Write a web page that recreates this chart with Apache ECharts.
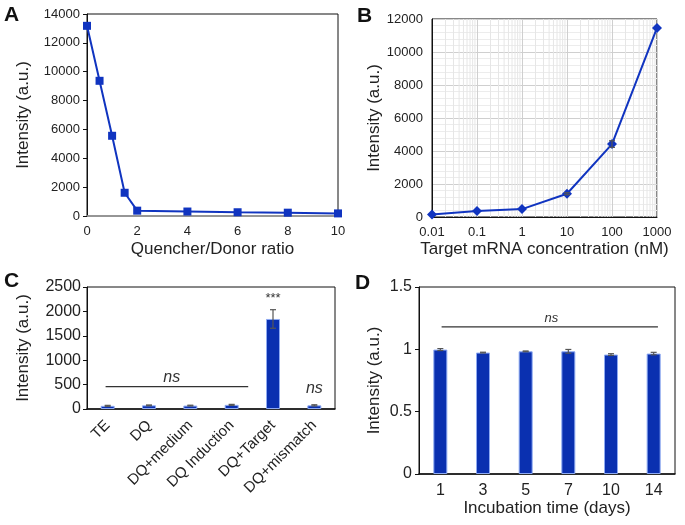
<!DOCTYPE html>
<html>
<head>
<meta charset="utf-8">
<script src="https://cdn.jsdelivr.net/npm/echarts@6/dist/echarts.min.js"></script>
<style>html,body{margin:0;padding:0;background:#fff}#c{width:685px;height:525px}</style>
</head>
<body>
<div id="c"></div>
<script>
// ---------- Data ----------
// Panel A
const aRatio = [0, 0.5, 1, 1.5, 2, 4, 6, 8, 10];
const aIntensity = [13180, 9370, 5560, 1610, 370, 310, 260, 230, 180];
// Panel B
const bConc = [0.01, 0.1, 1, 10, 100, 1000];
const bIntensity = [150, 360, 480, 1410, 4420, 11460];
const bError = [0, 0, 0, 60, 200, 0];
const bTickLabels = ['0.01', '0.1', '1', '10', '100', '1000'];
// Panel C
const cCategories = ['TE', 'DQ', 'DQ+medium', 'DQ Induction', 'DQ+Target', 'DQ+mismatch'];
const cIntensity = [65, 75, 70, 85, 1845, 75];
const cError = [10, 8, 8, 10, 190, 12];
// annotation line (x from, y, x to) on category index scale; texts (x, y)
const cNsLine = [[-0.05, 460, 3.4]];
const cTexts = [[1.55, 480], [4, 2130], [5, 260]];
const cTextLabels = ['ns', '***', 'ns'];
// Panel D
const dCategories = ['1', '3', '5', '7', '10', '14'];
const dIntensity = [0.998, 0.974, 0.984, 0.984, 0.958, 0.966];
const dError = [0.008, 0.003, 0.003, 0.015, 0.007, 0.01];
const dNsLine = [[0.03, 1.18, 5.1]];
const dTexts = [[2.6, 1.2]];
const dTextLabels = ['ns'];

// ---------- Styles ----------
const FONT = 'Liberation Sans, Arial, sans-serif';
const BLUE = '#1034c0';
const BAR = '#0a30b0';
const ERR = '#555';

// minor gridline positions for log axis (2..9 per decade)
const bMinorGrid = [];
for (let d = -2; d < 3; d++) {
  for (let k = 2; k <= 9; k++) bMinorGrid.push([k * Math.pow(10, d), 0]);
}

function errRender(params, api) {
  const x = api.value(0), v = api.value(1), e = api.value(2);
  if (!e) return null;
  const t = api.coord([x, v + e]);
  const b = api.coord([x, v - e]);
  const w = 3;
  const st = { stroke: ERR, lineWidth: 1.2 };
  return {
    type: 'group',
    children: [
      { type: 'line', shape: { x1: t[0], y1: t[1], x2: b[0], y2: b[1] }, style: st },
      { type: 'line', shape: { x1: t[0] - w, y1: t[1], x2: t[0] + w, y2: t[1] }, style: st },
      { type: 'line', shape: { x1: b[0] - w, y1: b[1], x2: b[0] + w, y2: b[1] }, style: st }
    ]
  };
}
function hLineRender(params, api) {
  const p0 = api.coord([api.value(0), api.value(1)]);
  const p1 = api.coord([api.value(2), api.value(1)]);
  return { type: 'line', shape: { x1: p0[0], y1: p0[1], x2: p1[0], y2: p1[1] }, style: { stroke: '#333', lineWidth: 1.2 } };
}
function textRender(labels, sizeFn) {
  return function (params, api) {
    const p = api.coord([api.value(0), api.value(1)]);
    const lbl = labels[params.dataIndex];
    const italic = lbl === 'ns';
    return {
      type: 'text', x: p[0], y: p[1],
      style: { text: lbl, fill: '#333', align: 'center', verticalAlign: 'bottom',
        font: (italic ? 'italic ' : '') + sizeFn(lbl) + 'px ' + FONT }
    };
  };
}

const plain = (v) => String(v);
const tickLbl = (size) => ({ fontSize: size, color: '#222', fontFamily: FONT, showMinLabel: true, showMaxLabel: true });
const nameTs = { fontSize: 17, color: '#222', fontFamily: FONT };

const grids = [
  { left: 87, top: 14, width: 251, height: 202 },
  { left: 432, top: 19, width: 225, height: 198 },
  { left: 87, top: 287, width: 248, height: 122 },
  { left: 419, top: 287, width: 256, height: 187 }
].map(g => Object.assign({ show: true, borderColor: '#111', borderWidth: 1, backgroundColor: 'transparent', outerBoundsMode: 'none', containLabel: false }, g));

const option = {
  animation: false,
  backgroundColor: '#fff',
  textStyle: { fontFamily: FONT },
  grid: grids,
  xAxis: [
    { gridIndex: 0, type: 'value', min: 0, max: 10, interval: 2,
      axisLine: { show: true, onZero: false, lineStyle: { color: '#9a9a9a', width: 1.5 } }, axisTick: { show: false },
      axisLabel: Object.assign(tickLbl(13), { margin: 9, formatter: plain }), splitLine: { show: false },
      name: 'Quencher/Donor ratio', nameLocation: 'middle', nameGap: 25, nameTextStyle: nameTs },
    { gridIndex: 1, type: 'log', logBase: 10, min: 0.01, max: 1000,
      axisLine: { show: true, onZero: false, lineStyle: { color: '#111' } }, axisTick: { show: false },
      axisLabel: Object.assign(tickLbl(13), { margin: 9, formatter: (v) => bTickLabels[Math.round(Math.log10(v)) + 2] }),
      splitLine: { show: true, lineStyle: { color: '#cfcfcf', width: 1 } },
      name: 'Target mRNA concentration (nM)', nameLocation: 'middle', nameGap: 24, nameTextStyle: nameTs },
    { gridIndex: 2, type: 'category', data: cCategories,
      axisLine: { show: true, onZero: false, lineStyle: { color: '#111', width: 1.5 } }, axisTick: { show: false },
      axisLabel: Object.assign(tickLbl(15), { rotate: 45, interval: 0, margin: 14 }) },
    { gridIndex: 3, type: 'category', data: dCategories,
      axisLine: { show: true, onZero: false, lineStyle: { color: '#111', width: 1.5 } }, axisTick: { show: false },
      axisLabel: Object.assign(tickLbl(16), { margin: 9 }),
      name: 'Incubation time (days)', nameLocation: 'middle', nameGap: 24, nameTextStyle: nameTs },
    // hidden value axes for annotations
    { gridIndex: 2, type: 'value', min: -0.5, max: 5.5, show: false, axisLine: { onZero: false }, splitLine: { show: false } },
    { gridIndex: 3, type: 'value', min: -0.5, max: 5.5, show: false, axisLine: { onZero: false }, splitLine: { show: false } }
  ],
  yAxis: [
    { gridIndex: 0, type: 'value', min: 0, max: 14000, interval: 2000,
      axisLine: { show: true, onZero: false, lineStyle: { color: '#111' } },
      axisTick: { show: true, inside: false, length: 4, lineStyle: { color: '#111' } },
      axisLabel: Object.assign(tickLbl(13), { margin: 7, formatter: plain }), splitLine: { show: false },
      name: 'Intensity (a.u.)', nameLocation: 'middle', nameRotate: 90, nameGap: 55, nameTextStyle: nameTs },
    { gridIndex: 1, type: 'value', min: 0, max: 12000, interval: 2000,
      axisLine: { show: true, onZero: false, lineStyle: { color: '#111' } }, axisTick: { show: false },
      axisLabel: Object.assign(tickLbl(13), { margin: 9, formatter: plain }),
      splitLine: { show: true, lineStyle: { color: '#cfcfcf' } },
      minorTick: { show: false, splitNumber: 5 },
      minorSplitLine: { show: true, lineStyle: { color: '#ececec' } },
      name: 'Intensity (a.u.)', nameLocation: 'middle', nameRotate: 90, nameGap: 48, nameTextStyle: nameTs },
    { gridIndex: 2, type: 'value', min: 0, max: 2500, interval: 500,
      axisLine: { show: true, onZero: false, lineStyle: { color: '#111' } },
      axisTick: { show: true, length: 4, lineStyle: { color: '#111' } },
      axisLabel: Object.assign(tickLbl(16), { margin: 6, formatter: plain }), splitLine: { show: false },
      name: 'Intensity (a.u.)', nameLocation: 'middle', nameRotate: 90, nameGap: 55, nameTextStyle: nameTs },
    { gridIndex: 3, type: 'value', min: 0, max: 1.5, interval: 0.5,
      axisLine: { show: true, onZero: false, lineStyle: { color: '#111' } },
      axisTick: { show: true, length: 4, lineStyle: { color: '#111' } },
      axisLabel: Object.assign(tickLbl(16), { margin: 7, formatter: plain }), splitLine: { show: false },
      name: 'Intensity (a.u.)', nameLocation: 'middle', nameRotate: 90, nameGap: 36, nameTextStyle: nameTs }
  ],
  series: [
    // A
    { type: 'line', xAxisIndex: 0, yAxisIndex: 0, data: aRatio.map((x, i) => [x, aIntensity[i]]),
      symbol: 'rect', symbolSize: 8, lineStyle: { color: BLUE, width: 2 }, itemStyle: { color: BLUE }, z: 5 },
    // B minor vertical grid
    { type: 'custom', xAxisIndex: 1, yAxisIndex: 1, data: bMinorGrid, silent: true, z: 1,
      renderItem: (params, api) => {
        const p0 = api.coord([api.value(0), 0]);
        const p1 = api.coord([api.value(0), 12000]);
        return { type: 'line', shape: { x1: p0[0], y1: p0[1], x2: p1[0], y2: p1[1] }, style: { stroke: '#e6e6e6', lineWidth: 1 } };
      } },
    { type: 'line', xAxisIndex: 1, yAxisIndex: 1, data: bConc.map((x, i) => [x, bIntensity[i]]),
      symbol: 'diamond', symbolSize: 10, lineStyle: { color: BLUE, width: 2 }, itemStyle: { color: BLUE }, z: 5 },
    { type: 'custom', xAxisIndex: 1, yAxisIndex: 1, data: bConc.map((x, i) => [x, bIntensity[i], bError[i]]),
      renderItem: errRender, z: 6 },
    // C
    { type: 'bar', xAxisIndex: 2, yAxisIndex: 2, data: cIntensity, barWidth: 14,
      itemStyle: { color: BAR, borderColor: '#8eaaf2', borderWidth: 1 } },
    { type: 'custom', xAxisIndex: 2, yAxisIndex: 2, data: cIntensity.map((v, i) => [i, v, cError[i]]),
      renderItem: errRender, z: 6 },
    { type: 'custom', xAxisIndex: 4, yAxisIndex: 2, data: cNsLine, renderItem: hLineRender, z: 6 },
    { type: 'custom', xAxisIndex: 4, yAxisIndex: 2, data: cTexts, z: 6,
      renderItem: textRender(cTextLabels, (l) => (l === 'ns' ? 16 : 13)) },
    // D
    { type: 'bar', xAxisIndex: 3, yAxisIndex: 3, data: dIntensity, barWidth: 14,
      itemStyle: { color: BAR, borderColor: '#8eaaf2', borderWidth: 1 } },
    { type: 'custom', xAxisIndex: 3, yAxisIndex: 3, data: dIntensity.map((v, i) => [i, v, dError[i]]),
      renderItem: errRender, z: 6 },
    { type: 'custom', xAxisIndex: 5, yAxisIndex: 3, data: dNsLine, renderItem: hLineRender, z: 6 },
    { type: 'custom', xAxisIndex: 5, yAxisIndex: 3, data: dTexts, z: 6,
      renderItem: textRender(dTextLabels, () => 13) }
  ],
  graphic: [
    { type: 'text', left: 4, top: 5, style: { text: 'A', font: 'bold 21px ' + FONT, fill: '#111' } },
    { type: 'text', left: 357, top: 6, style: { text: 'B', font: 'bold 21px ' + FONT, fill: '#111' } },
    { type: 'text', left: 4, top: 271, style: { text: 'C', font: 'bold 21px ' + FONT, fill: '#111' } },
    { type: 'text', left: 355, top: 273, style: { text: 'D', font: 'bold 21px ' + FONT, fill: '#111' } }
  ]
};

const chart = echarts.init(document.getElementById('c'), null, { renderer: 'canvas' });
chart.setOption(option);
</script>
</body>
</html>
